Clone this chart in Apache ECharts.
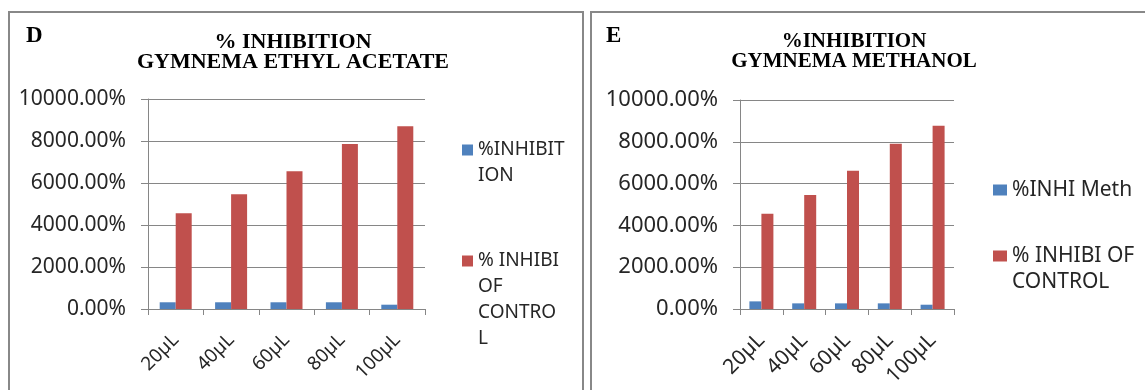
<!DOCTYPE html>
<html>
<head>
<meta charset="utf-8">
<script src="https://cdn.jsdelivr.net/npm/echarts@6/dist/echarts.min.js"></script>
<style>
html,body{margin:0;padding:0;background:#fff;}
#c{width:1145px;height:390px;}
</style>
</head>
<body>
<div id="c"></div>
<script>
// ---- data ----
var categories = ['20µL', '40µL', '60µL', '80µL', '100µL'];
var yTicks = [0, 2000, 4000, 6000, 8000, 10000];

// Panel D: Gymnema ethyl acetate
var dNames = ['%INHIBITION', '% INHIBI OF CONTROL'];
var dInhibition = [320, 320, 320, 320, 205];
var dControl = [4560, 5460, 6560, 7860, 8700];

// Panel E: Gymnema methanol
var eNames = ['%INHI Meth', '% INHIBI OF CONTROL '];
var eInhibition = [365, 270, 270, 270, 205];
var eControl = [4555, 5460, 6620, 7910, 8770];

var legendText = {
  '%INHIBITION': '\n%INHIBIT\nION',
  '% INHIBI OF CONTROL': '\n\n\n% INHIBI\nOF\nCONTRO\nL',
  '%INHI Meth': '%INHI Meth',
  '% INHIBI OF CONTROL ': '\n% INHIBI OF\nCONTROL'
};

var BLUE = '#4F81BD', RED = '#C0504D', GRID = '#868686', TXT = '#262626';
var SANS = 'Noto Sans', SERIF = 'Liberation Serif';

function yAxis(gi, fs) {
  return {
    type: 'value', gridIndex: gi, min: yTicks[0], max: yTicks[yTicks.length - 1],
    interval: yTicks[1] - yTicks[0],
    axisLine: {show: true, lineStyle: {color: GRID, width: 1}},
    axisTick: {show: true, length: 7, lineStyle: {color: GRID}},
    splitLine: {show: true, lineStyle: {color: GRID, width: 1}},
    axisLabel: {margin: 22, color: TXT, fontFamily: SANS, fontSize: fs,
      formatter: function (v) { return v.toFixed(2) + '%'; }}
  };
}
function xAxis(gi, fs, m) {
  return {
    type: 'category', gridIndex: gi, data: categories,
    axisLine: {show: true, lineStyle: {color: GRID, width: 1}},
    axisTick: {show: true, length: 6, interval: 0, alignWithLabel: false, lineStyle: {color: GRID}},
    axisLabel: {rotate: 45, margin: m, interval: 0, color: TXT, fontFamily: SANS, fontSize: fs}
  };
}
function legend(name, left, top, w, h, fs) {
  return {
    data: [name], orient: 'vertical', left: left, top: top, padding: 0,
    itemWidth: w, itemHeight: h, icon: 'rect', selectedMode: false,
    formatter: function (n) { return legendText[n]; },
    textStyle: {color: TXT, fontFamily: SANS, fontSize: fs, lineHeight: 26}
  };
}
function bar(name, gi, data, color, w) {
  return {
    name: name, type: 'bar', xAxisIndex: gi, yAxisIndex: gi, data: data,
    barWidth: w, barGap: '0%', itemStyle: {color: color}, animation: false
  };
}

var chart = echarts.init(document.getElementById('c'));
chart.setOption({
  animation: false,
  backgroundColor: '#fff',
  title: [
    {text: '% INHIBITION\nGYMNEMA ETHYL ACETATE', left: 293, top: 32, textAlign: 'center', padding: 0,
      textStyle: {fontFamily: SERIF, fontWeight: 'bold', fontSize: 22, lineHeight: 20, color: '#000'}},
    {text: '%INHIBITION\nGYMNEMA METHANOL', left: 854, top: 32, textAlign: 'center', padding: 0,
      textStyle: {fontFamily: SERIF, fontWeight: 'bold', fontSize: 21, lineHeight: 20, color: '#000'}},
    {text: 'D', left: 26, top: 25, padding: 0,
      textStyle: {fontFamily: SERIF, fontWeight: 'bold', fontSize: 23, color: '#000'}},
    {text: 'E', left: 606, top: 25, padding: 0,
      textStyle: {fontFamily: SERIF, fontWeight: 'bold', fontSize: 23, color: '#000'}}
  ],
  legend: [
    legend(dNames[0], 462, 111, 11, 11, 19),
    legend(dNames[1], 462, 170, 11, 11, 19),
    legend(eNames[0], 993, 177, 14, 11, 21),
    legend(eNames[1], 993, 217, 14, 11, 21)
  ],
  grid: [
    {left: 148, top: 99, width: 277, height: 210},
    {left: 740, top: 100, width: 214, height: 209}
  ],
  xAxis: [xAxis(0, 19, 28), xAxis(1, 21, 28)],
  yAxis: [yAxis(0, 21), yAxis(1, 22)],
  series: [
    bar(dNames[0], 0, dInhibition, BLUE, 16),
    bar(dNames[1], 0, dControl, RED, 16),
    bar(eNames[0], 1, eInhibition, BLUE, 12),
    bar(eNames[1], 1, eControl, RED, 12)
  ],
  graphic: [
    {type: 'rect', silent: true, shape: {x: 9, y: 12, width: 574, height: 400},
      style: {fill: 'none', stroke: '#888', lineWidth: 2}},
    {type: 'rect', silent: true, shape: {x: 591, y: 12, width: 600, height: 400},
      style: {fill: 'none', stroke: '#888', lineWidth: 2}}
  ]
});
</script>
</body>
</html>
